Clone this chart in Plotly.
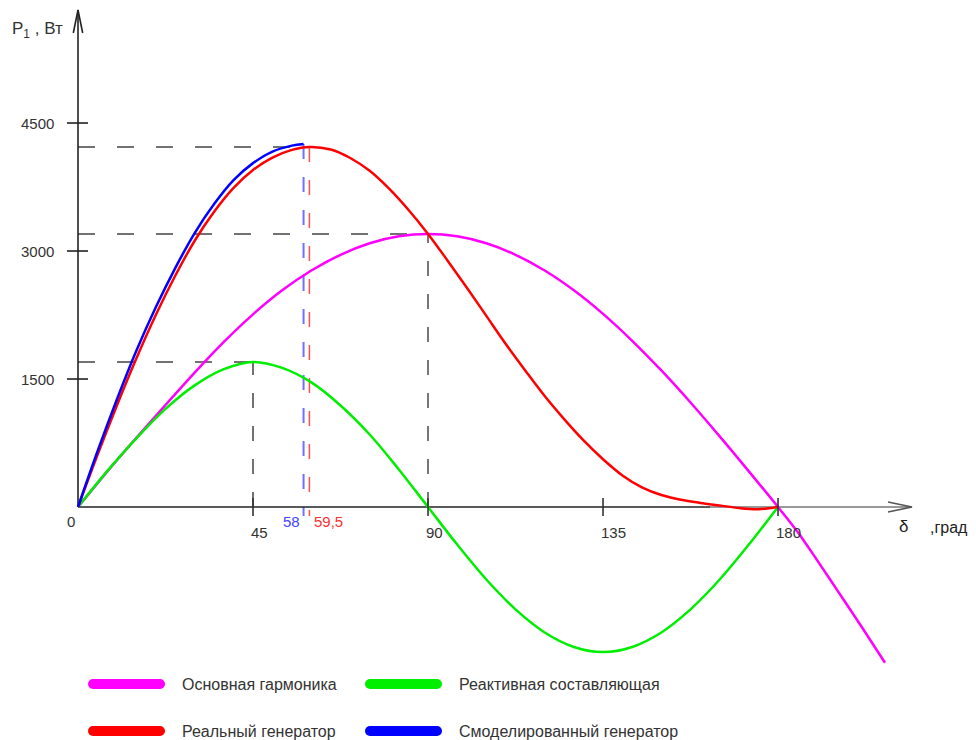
import plotly.graph_objects as go

# ---------------- data ----------------
# Основная гармоника (magenta)
delta_main = [0, 7.5, 15, 22.5, 30, 37.5, 45, 52.5, 60, 67.5, 75, 82.5, 90, 97.5, 105,
              112.5, 120, 127.5, 135, 142.5, 150, 157.5, 165, 172.5, 180, 185, 190,
              195, 200, 205, 207.5]
p_main = [0, 415, 810, 1195, 1575, 1935, 2258, 2539, 2771, 2956, 3091, 3173, 3200, 3173,
          3091, 2956, 2771, 2539, 2263, 1948, 1600, 1225, 828, 418, 0, -290, -620,
          -960, -1300, -1650, -1825]

# Реактивная составляющая (green)
delta_react = [0, 7.5, 15, 22.5, 30, 37.5, 45, 52.5, 60, 67.5, 75, 82.5, 90, 97.5, 105,
               112.5, 120, 127.5, 135, 142.5, 150, 157.5, 165, 172.5, 180]
p_react = [0, 420, 805, 1150, 1425, 1615, 1700, 1630, 1460, 1190, 850, 440, 0, -440,
           -850, -1200, -1470, -1640, -1700, -1640, -1470, -1200, -850, -440, 0]

# Реальный генератор (red)
delta_real = [0, 5, 10, 15, 20, 25, 30, 35, 40, 45, 50, 55, 59.5, 65, 70, 75, 80, 85, 90,
              95, 100, 105, 110, 115, 120, 125, 130, 135, 140, 145, 150, 155, 160,
              165, 170, 175, 180]
p_real = [0, 610, 1190, 1740, 2250, 2710, 3120, 3460, 3740, 3950, 4095, 4185, 4220, 4190,
          4090, 3940, 3730, 3480, 3200, 2890, 2570, 2240, 1910, 1600, 1300, 1030, 780,
          560, 370, 230, 140, 85, 48, 18, -12, -25, 0]

# Смоделированный генератор (blue)
delta_model = [0, 5, 10, 15, 20, 25, 30, 35, 40, 45, 50, 55, 58]
p_model = [0, 650, 1260, 1830, 2340, 2800, 3210, 3550, 3830, 4030, 4165, 4235, 4255]

# characteristic points
x_ticks = [45, 90, 135, 180]
x_tick_labels = ["45", "90", "135", "180"]
y_ticks = [1500, 3000, 4500]
y_tick_labels = ["1500", "3000", "4500"]
delta_model_max, p_model_max = 58, 4255
delta_real_max, p_real_max = 59.5, 4220
delta_react_max, p_react_max = 45, 1700
delta_main_max, p_main_max = 90, 3200

legend_names = ["Основная гармоника", "Реактивная составляющая",
                "Реальный генератор", "Смоделированный генератор"]

# ---------------- geometry ----------------
PAGE_OFF = 8                     # default body margin of the html page
W, H = 976 - PAGE_OFF, 740 - PAGE_OFF
ML, MR, MT, MB = 2, 2, 0, 0
X0PX, DEG_PX = 78.0, 3.889       # screen pixel of delta=0, pixels per degree
Y0PX, W_PX = 507.0, 0.08533      # screen pixel of P=0, pixels per watt


def fx(px):
    return (px - X0PX) / DEG_PX


def fy(py):
    return (Y0PX - py) / W_PX


def dx(pixels):
    return pixels / DEG_PX


def dy(pixels):
    return pixels / W_PX


FONT = "Liberation Sans, Arial, sans-serif"
MAGENTA, GREEN, RED, BLUE = "#ff00ff", "#00ee00", "#ff0000", "#0000ff"

fig = go.Figure()
fig.add_trace(go.Scatter(x=delta_main, y=p_main, mode="lines", name=legend_names[0],
                         line=dict(color=MAGENTA, width=2.5, shape="spline")))
fig.add_trace(go.Scatter(x=delta_react, y=p_react, mode="lines", name=legend_names[1],
                         line=dict(color=GREEN, width=2.5, shape="spline")))
fig.add_trace(go.Scatter(x=delta_real, y=p_real, mode="lines", name=legend_names[2],
                         line=dict(color=RED, width=2.5, shape="spline")))
fig.add_trace(go.Scatter(x=delta_model, y=p_model, mode="lines", name=legend_names[3],
                         line=dict(color=BLUE, width=2.5, shape="spline")))

shapes = []
DASH_H = "17px,22px"
DASH_V = "15px,18px"
# horizontal helper lines
for (xe, yv) in [(delta_model_max, p_real_max), (delta_main_max, p_main_max),
                 (delta_react_max, p_react_max)]:
    shapes.append(dict(type="line", xref="x", yref="y", x0=0, x1=xe, y0=yv, y1=yv,
                       line=dict(color="#444", width=1.5, dash=DASH_H), layer="below"))
# vertical helper lines
shapes.append(dict(type="line", xref="x", yref="y", x0=delta_react_max, x1=delta_react_max,
                   y0=0, y1=p_react_max, line=dict(color="#444", width=1.5, dash=DASH_V),
                   layer="below"))
shapes.append(dict(type="line", xref="x", yref="y", x0=delta_main_max, x1=delta_main_max,
                   y0=0, y1=p_main_max, line=dict(color="#777", width=2, dash=DASH_V),
                   layer="below"))
shapes.append(dict(type="line", xref="x", yref="y", x0=delta_model_max, x1=delta_model_max,
                   y0=p_model_max, y1=dy(-9), line=dict(color="#7070ff", width=2, dash=DASH_V),
                   layer="below"))
shapes.append(dict(type="line", xref="x", yref="y", x0=delta_real_max, x1=delta_real_max,
                   y0=p_real_max, y1=dy(-9), line=dict(color="#ff5050", width=1.5, dash=DASH_V),
                   layer="below"))

# axes
x_end = fx(912)
y_end = fy(10)
shapes.append(dict(type="line", xref="x", yref="y", x0=0, x1=fx(710), y0=0, y1=0,
                   line=dict(color="#222", width=1.6), layer="below"))
shapes.append(dict(type="line", xref="x", yref="y", x0=fx(710), x1=x_end, y0=0, y1=0,
                   line=dict(color="#777", width=1.6), layer="below"))
shapes.append(dict(type="line", xref="x", yref="y", x0=0, x1=0, y0=0, y1=y_end,
                   line=dict(color="#222", width=1.6), layer="below"))
# arrowheads
shapes.append(dict(type="path", xref="x", yref="y",
                   path=f"M {x_end - dx(24)},{dy(5)} L {x_end},0 L {x_end - dx(24)},{-dy(5)}",
                   line=dict(color="#555", width=1.6)))
shapes.append(dict(type="path", xref="x", yref="y",
                   path=f"M {-dx(4.7)},{y_end - dy(23)} L 0,{y_end} L {dx(4.7)},{y_end - dy(23)}",
                   line=dict(color="#222", width=1.6)))
# ticks
for xv in x_ticks:
    shapes.append(dict(type="line", xref="x", yref="y", x0=xv, x1=xv, y0=-dy(9), y1=dy(9),
                       line=dict(color="#333", width=1.6)))
for yv in y_ticks:
    shapes.append(dict(type="line", xref="x", yref="y", x0=-dx(11), x1=dx(10), y0=yv, y1=yv,
                       line=dict(color="#222", width=1.6)))

annotations = []
TXT = "#333"
for xv, lab in zip(x_ticks, x_tick_labels):
    annotations.append(dict(x=xv, y=0, xref="x", yref="y", text=lab, showarrow=False,
                            xanchor="left", yanchor="middle", xshift=-4, yshift=-25,
                            font=dict(family=FONT, size=15, color=TXT)))
annotations.append(dict(x=0, y=0, xref="x", yref="y", text="0", showarrow=False,
                        xanchor="center", yanchor="middle", xshift=-7, yshift=-14,
                        font=dict(family=FONT, size=15, color=TXT)))
for yv, lab in zip(y_ticks, y_tick_labels):
    annotations.append(dict(x=0, y=yv, xref="x", yref="y", text=lab, showarrow=False,
                            xanchor="right", yanchor="middle", xshift=-22,
                            font=dict(family=FONT, size=15, color=TXT)))
annotations.append(dict(x=delta_model_max, y=0, xref="x", yref="y", text="58", showarrow=False,
                        xanchor="center", yanchor="middle", xshift=-12, yshift=-14,
                        font=dict(family=FONT, size=15, color="#4444ff")))
annotations.append(dict(x=delta_real_max, y=0, xref="x", yref="y", text="59,5", showarrow=False,
                        xanchor="left", yanchor="middle", xshift=3, yshift=-14,
                        font=dict(family=FONT, size=15, color="#ff3030")))
annotations.append(dict(x=0, y=fy(30), xref="x", yref="y", text="P<sub>1</sub> , Вт",
                        showarrow=False, xanchor="left", yanchor="middle", xshift=10 - X0PX,
                        font=dict(family=FONT, size=17, color=TXT)))
annotations.append(dict(x=fx(903), y=fy(526), xref="x", yref="y", text="δ", showarrow=False,
                        xanchor="center", yanchor="middle",
                        font=dict(family=FONT, size=17, color="#222")))
annotations.append(dict(x=fx(928), y=fy(527), xref="x", yref="y", text=",град", showarrow=False,
                        xanchor="left", yanchor="middle",
                        font=dict(family=FONT, size=16, color="#222")))

# legend drawn by hand
legend_items = [(legend_names[0], MAGENTA, 88, 684), (legend_names[1], GREEN, 365, 684),
                (legend_names[2], RED, 88, 731), (legend_names[3], BLUE, 365, 731)]
BAR_LEN = 77
CAP = 5
for name, col, lx, ly in legend_items:
    shapes.append(dict(type="line", xref="x", yref="y", x0=fx(lx + CAP),
                       x1=fx(lx + BAR_LEN - CAP), y0=fy(ly), y1=fy(ly),
                       line=dict(color=col, width=2 * CAP)))
    for ex in (lx + CAP, lx + BAR_LEN - CAP):
        shapes.append(dict(type="circle", xref="x", yref="y", xsizemode="pixel",
                           ysizemode="pixel", xanchor=fx(ex), yanchor=fy(ly),
                           x0=-CAP, x1=CAP, y0=-CAP, y1=CAP, fillcolor=col,
                           line=dict(color=col, width=0)))
    annotations.append(dict(x=fx(lx + BAR_LEN + 15), y=fy(ly), xref="x", yref="y", text=name,
                            showarrow=False, xanchor="left", yanchor="middle",
                            font=dict(family=FONT, size=16, color=TXT)))

fig.update_layout(
    width=W, height=H,
    margin=dict(l=ML, r=MR, t=MT, b=MB),
    plot_bgcolor="white", paper_bgcolor="white",
    showlegend=False,
    xaxis=dict(range=[fx(PAGE_OFF + ML), fx(PAGE_OFF + W - MR)], visible=False,
               fixedrange=True),
    yaxis=dict(range=[fy(PAGE_OFF + H - MB), fy(PAGE_OFF + MT)], visible=False,
               fixedrange=True),
    shapes=shapes, annotations=annotations,
)

fig.write_html("out.html")
